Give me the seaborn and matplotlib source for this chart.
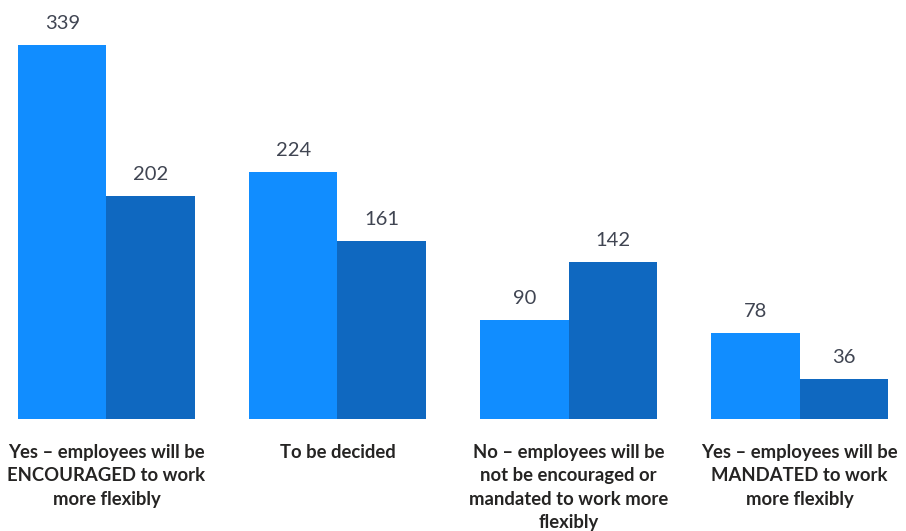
import pandas as pd
import matplotlib.pyplot as plt
import seaborn as sns

sns.set_style('white')
plt.rcParams['font.family'] = ['Lato', 'DejaVu Sans']

# data
categories = [
    'Yes – employees will be\nENCOURAGED to work\nmore flexibly',
    'To be decided',
    'No – employees will be\nnot be encouraged or\nmandated to work more\nflexibly',
    'Yes – employees will be\nMANDATED to work\nmore flexibly',
]
series_a = [339, 224, 90, 78]
series_b = [202, 161, 142, 36]
series_names = ['Series A', 'Series B']
colors = ['#118DFF', '#0F68C0']

df = pd.DataFrame({
    'category': categories * 2,
    'value': series_a + series_b,
    'series': [series_names[0]] * 4 + [series_names[1]] * 4,
})

fig = plt.figure(figsize=(9.06, 5.31), dpi=100)
ax = fig.add_axes([0, 0.211, 1, 0.789])

sns.barplot(data=df, x='category', y='value', hue='series', palette=colors,
            width=0.766, gap=0, saturation=1, linewidth=0, legend=False, ax=ax)

for c in ax.containers:
    ax.bar_label(c, padding=9.5, fontsize=14.5, color='#404552')

ax.set_xlim(-0.461, 3.461)
ax.set_ylim(0, 380)
ax.set_xlabel('')
ax.set_ylabel('')
ax.set_yticks([])
ax.tick_params(axis='x', length=0, pad=18)
for lab in ax.get_xticklabels():
    lab.set_fontweight('bold')
    lab.set_fontsize(13.3)
    lab.set_color('#252423')
    lab.set_linespacing(1.45)
    lab.set_verticalalignment('top')
sns.despine(ax=ax, left=True, bottom=True)

fig.savefig('out.png', dpi=100)
